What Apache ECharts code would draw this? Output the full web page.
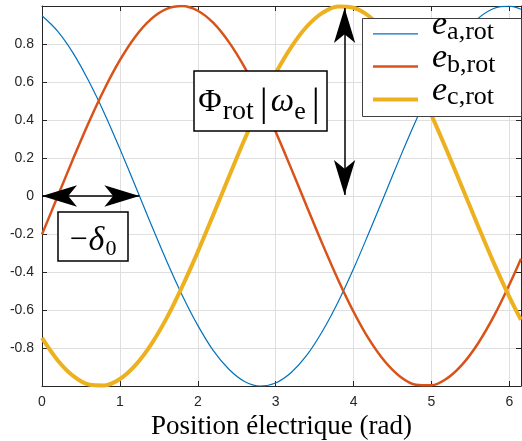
<!DOCTYPE html>
<html>
<head>
<meta charset="utf-8">
<script src="https://cdn.jsdelivr.net/npm/echarts@6/dist/echarts.min.js"></script>
<style>
  html, body { margin: 0; padding: 0; background: #fff; }
  #chart { width: 522px; height: 441px; }
</style>
</head>
<body>
<div id="chart"></div>
<script>
// ---- data ----
const xValues = [0, 0.2, 0.4, 0.6, 0.8, 1.0, 1.2, 1.4, 1.6, 1.8, 2.0, 2.2, 2.4, 2.6, 2.8, 3.0,
                 3.2, 3.4, 3.6, 3.8, 4.0, 4.2, 4.4, 4.6, 4.8, 5.0, 5.2, 5.4, 5.6, 5.8, 6.0, 6.15];
const eaRot = [0.949, 0.868, 0.752, 0.605, 0.436, 0.248, 0.051, -0.149, -0.342, -0.522, -0.681, -0.814,
               -0.912, -0.976, -1.000, -0.984, -0.929, -0.838, -0.712, -0.559, -0.383, -0.191, 0.007,
               0.206, 0.396, 0.571, 0.723, 0.846, 0.935, 0.987, 0.999, 0.983];
const ebRot = [-0.202, -0.003, 0.196, 0.387, 0.562, 0.715, 0.840, 0.931, 0.985, 1.000, 0.975, 0.911,
               0.810, 0.678, 0.518, 0.338, 0.144, -0.055, -0.252, -0.439, -0.609, -0.755, -0.870,
               -0.951, -0.993, -0.996, -0.960, -0.885, -0.775, -0.634, -0.467, -0.330];
const ecRot = [-0.747, -0.864, -0.947, -0.992, -0.997, -0.963, -0.890, -0.782, -0.643, -0.477, -0.294,
               -0.098, 0.101, 0.297, 0.480, 0.646, 0.784, 0.892, 0.964, 0.998, 0.991, 0.946, 0.862,
               0.745, 0.597, 0.426, 0.237, 0.040, -0.159, -0.352, -0.531, -0.652];
const seriesNames = ['ea', 'eb', 'ec'];
const seriesSubs = {ea: 'a,rot', eb: 'b,rot', ec: 'c,rot'};
const xMin = 0, xMax = 6.15, xInterval = 1;
const yMin = -1, yMax = 1, yInterval = 0.2;
const xTitle = 'Position électrique (rad)';
// annotation arrows (data coordinates of the arrow tips)
const deltaArrow = [[0, 0], [1.25, 0]];
const phiArrow = [[3.885, 0.99], [3.885, 0.005]];

const pairs = ys => xValues.map((x, i) => [x, ys[i]]);

const axisColor = '#262626';
const gridColor = '#dfdfdf';
const serif = 'Liberation Serif';

const chart = echarts.init(document.getElementById('chart'), null, {renderer: 'canvas'});

const option = {
  animation: false,
  backgroundColor: '#fff',
  grid: {left: 42, right: 1, top: 6, bottom: 55, containLabel: false, outerBoundsMode: 'none'},
  xAxis: [{
    type: 'value', min: xMin, max: xMax, interval: xInterval, position: 'bottom',
    axisLine: {show: true, onZero: false, lineStyle: {color: axisColor, width: 1}},
    axisTick: {show: true, inside: true, length: 5, lineStyle: {color: axisColor}},
    axisLabel: {color: axisColor, fontSize: 14, fontFamily: 'Liberation Sans', margin: 9,
                showMaxLabel: false},
    splitLine: {show: true, lineStyle: {color: gridColor, width: 1}},
    name: xTitle, nameLocation: 'middle', nameGap: 26,
    nameTextStyle: {fontFamily: serif, fontSize: 27, color: '#000'}
  }, {
    type: 'value', min: xMin, max: xMax, interval: xInterval, position: 'top',
    axisLine: {show: true, onZero: false, lineStyle: {color: axisColor, width: 1}},
    axisTick: {show: true, inside: true, length: 5, lineStyle: {color: axisColor}},
    axisLabel: {show: false}, splitLine: {show: false}
  }],
  yAxis: [{
    type: 'value', min: yMin, max: yMax, interval: yInterval, position: 'left',
    axisLine: {show: true, onZero: false, lineStyle: {color: axisColor, width: 1}},
    axisTick: {show: true, inside: true, length: 5, lineStyle: {color: axisColor}},
    axisLabel: {color: axisColor, fontSize: 14, fontFamily: 'Liberation Sans', margin: 8,
                formatter: v => (Math.abs(v) > 0.99 ? '' : String(Math.round(v * 10) / 10))},
    splitLine: {show: true, lineStyle: {color: gridColor, width: 1}}
  }, {
    type: 'value', min: yMin, max: yMax, interval: yInterval, position: 'right',
    axisLine: {show: true, onZero: false, lineStyle: {color: axisColor, width: 1}},
    axisTick: {show: true, inside: true, length: 5, lineStyle: {color: axisColor}},
    axisLabel: {show: false}, splitLine: {show: false}
  }],
  legend: {
    data: seriesNames,
    orient: 'vertical',
    left: 371, top: 8,
    padding: 0,
    z: 20,
    itemWidth: 45, itemHeight: 60, itemGap: -17,
    selectedMode: false,
    lineStyle: {width: 'inherit'},
    itemStyle: {opacity: 0},
    formatter: name => '{e|e}{s|' + seriesSubs[name] + '}',
    textStyle: {
      color: '#000',
      rich: {
        e: {fontFamily: serif, fontStyle: 'italic', fontSize: 34,
            verticalAlign: 'middle', padding: [0, 0, 17.6, 9], color: '#000'},
        s: {fontFamily: serif, fontSize: 26,
            verticalAlign: 'middle', padding: [0, 0, 3.6, 0], color: '#000'}
      }
    }
  },
  series: [{
    name: 'ea', type: 'line', data: pairs(eaRot), symbol: 'none', smooth: 0.35,
    lineStyle: {color: '#0072BD', width: 1.2}, itemStyle: {color: '#0072BD'}, z: 2
  }, {
    name: 'eb', type: 'line', data: pairs(ebRot), symbol: 'none', smooth: 0.35,
    lineStyle: {color: '#D95319', width: 2.5}, itemStyle: {color: '#D95319'}, z: 3
  }, {
    name: 'ec', type: 'line', data: pairs(ecRot), symbol: 'none', smooth: 0.35,
    lineStyle: {color: '#EDB120', width: 4}, itemStyle: {color: '#EDB120'}, z: 4
  }, {
    name: 'arrows', type: 'line', data: [], symbol: 'none', z: 6,
    markLine: {
      silent: true, animation: false,
      symbol: ['arrow', 'arrow'], symbolSize: [16, 35],
      label: {show: false},
      lineStyle: {color: '#000', width: 1.5, type: 'solid'},
      itemStyle: {color: '#000'},
      emphasis: {disabled: true},
      data: [
        [{coord: deltaArrow[0]}, {coord: deltaArrow[1]}],
        [{coord: phiArrow[0]}, {coord: phiArrow[1]}]
      ]
    }
  }],
  graphic: [
    // legend frame
    {type: 'rect', z: 15, shape: {x: 362.5, y: 18.5, width: 159, height: 98},
     style: {fill: '#fff', stroke: '#404040', lineWidth: 1}},
    {type: 'rect', z: 100, shape: {x: 194, y: 71, width: 133, height: 60},
     style: {fill: '#fff', stroke: '#000', lineWidth: 1.5}},
    {type: 'text', z: 101, x: 260.5, y: 101,
     style: {
       text: '{P|Φ}{r|rot}{b||}{w|ω}{e|e}{b||}',
       align: 'center', verticalAlign: 'middle',
       rich: {
         P: {fontFamily: serif, fontSize: 32, lineHeight: 44, verticalAlign: 'middle', padding: [3, 1, 0, 0], fill: '#000'},
         r: {fontFamily: serif, fontSize: 28, lineHeight: 44, verticalAlign: 'middle', padding: [22, 3, 0, 0], fill: '#000'},
         b: {fontFamily: serif, fontSize: 40, lineHeight: 44, verticalAlign: 'middle', padding: [6, 3, 0, 3], fill: '#000'},
         w: {fontFamily: serif, fontStyle: 'italic', fontSize: 33, lineHeight: 44, verticalAlign: 'middle', padding: [3, 0, 0, 0], fill: '#000'},
         e: {fontFamily: serif, fontSize: 26, lineHeight: 44, verticalAlign: 'middle', padding: [23, 3, 0, 0], fill: '#000'}
       }
     }},
    {type: 'rect', z: 100, shape: {x: 58, y: 212, width: 70, height: 49},
     style: {fill: '#fff', stroke: '#000', lineWidth: 1.5}},
    {type: 'text', z: 101, x: 93, y: 236.5,
     style: {
       text: '{m|−}{d|δ}{z|0}',
       align: 'center', verticalAlign: 'middle',
       rich: {
         m: {fontFamily: serif, fontSize: 32, lineHeight: 40, verticalAlign: 'middle', padding: [8, 1, 0, 0], fill: '#000'},
         d: {fontFamily: serif, fontStyle: 'italic', fontSize: 34, lineHeight: 40, verticalAlign: 'middle', padding: [10, 1, 0, 0], fill: '#000'},
         z: {fontFamily: serif, fontSize: 22, lineHeight: 40, verticalAlign: 'middle', padding: [26, 0, 0, 0], fill: '#000'}
       }
     }}
  ]
};
chart.setOption(option);
</script>
</body>
</html>
